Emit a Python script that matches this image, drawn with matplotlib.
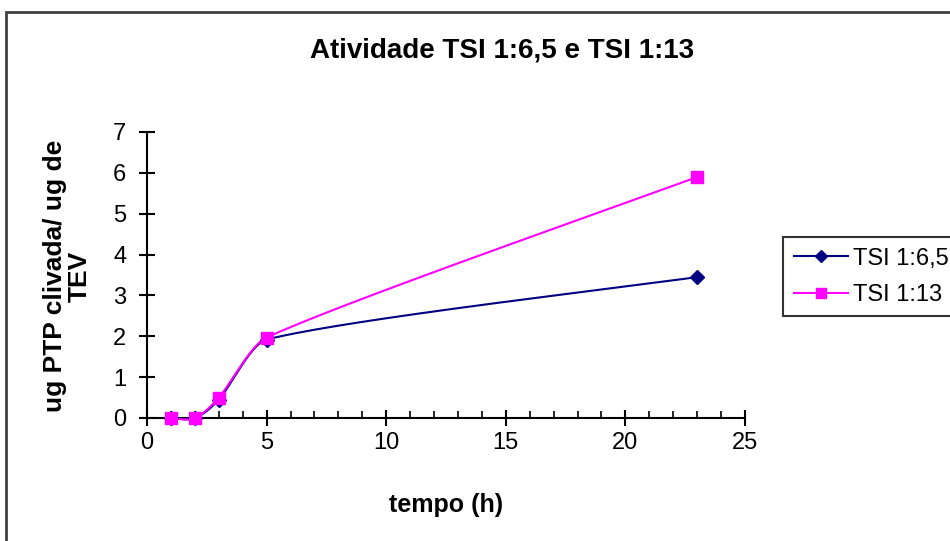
import numpy as np
import matplotlib
matplotlib.use("Agg")
import matplotlib.pyplot as plt
from matplotlib.patches import Rectangle
from matplotlib.lines import Line2D
from matplotlib.ticker import MultipleLocator

plt.rcParams['font.family'] = ['Liberation Sans', 'DejaVu Sans']

tempo = [1, 2, 3, 5, 23]
tsi_65 = [0.0, 0.0, 0.45, 1.92, 3.45]
tsi_13 = [0.0, 0.0, 0.5, 1.97, 5.9]
x_ticks = [0, 5, 10, 15, 20, 25]
y_ticks = [0, 1, 2, 3, 4, 5, 6, 7]


def smooth(xs, ys, n=60):
    """Spreadsheet-style smoothed line: cubic Bezier pieces whose control
    points follow the neighbour chords, shortened so no piece folds back."""
    p = np.column_stack([np.asarray(xs, float), np.asarray(ys, float)])
    npt = len(p)
    tang = []
    for k in range(npt):
        a = p[max(k - 1, 0)]
        b = p[min(k + 1, npt - 1)]
        tang.append((b - a) / 6.0)
    t = np.linspace(0, 1, n)[:, None]
    out = []
    for k in range(npt - 1):
        h = p[k + 1, 0] - p[k, 0]
        t1, t2 = tang[k].copy(), tang[k + 1].copy()
        if t1[0] > h / 3:
            t1 *= (h / 3) / t1[0]
        if t2[0] > h / 3:
            t2 *= (h / 3) / t2[0]
        c1 = p[k] + t1
        c2 = p[k + 1] - t2
        seg = ((1 - t) ** 3) * p[k] + 3 * ((1 - t) ** 2) * t * c1 \
            + 3 * (1 - t) * t ** 2 * c2 + t ** 3 * p[k + 1]
        out.append(seg)
    out = np.vstack(out)
    return out[:, 0], out[:, 1]


fig = plt.figure(figsize=(9.5, 5.41), dpi=100)
fig.patch.set_facecolor('white')

# chart area frame
fig.patches.append(Rectangle((6 / 950, -0.05), 1.2, 1 - 12 / 541 + 0.05,
                             transform=fig.transFigure, fill=False,
                             edgecolor='#404040', linewidth=2))

ax = fig.add_axes([147 / 950, 1 - 418 / 541, (745 - 147) / 950, (418 - 132) / 541])

bx, by = smooth(tempo, tsi_65)
px_, py_ = smooth(tempo, tsi_13)
ax.plot(bx, by, color='#000080', linewidth=1.5, zorder=3, clip_on=False)
ax.plot(tempo, tsi_65, linestyle='none', marker='D', markersize=7,
        color='#000080', zorder=4, clip_on=False)
ax.plot(px_, py_, color='#FF00FF', linewidth=1.5, zorder=3, clip_on=False)
ax.plot(tempo, tsi_13, linestyle='none', marker='s', markersize=9,
        color='#FF00FF', zorder=5, clip_on=False)

ax.set_xlim(0, 25)
ax.set_ylim(0, 7)
ax.set_xticks(x_ticks)
ax.set_yticks(y_ticks)
ax.xaxis.set_minor_locator(MultipleLocator(1))
for s in ['top', 'right']:
    ax.spines[s].set_visible(False)
for s in ['left', 'bottom']:
    ax.spines[s].set_linewidth(1.5)
ax.tick_params(axis='x', which='major', direction='inout', length=12, width=1.5,
               labelsize=17, pad=4)
ax.tick_params(axis='x', which='minor', direction='in', length=5, width=1.2)
ax.tick_params(axis='y', which='major', direction='inout', length=12, width=1.5,
               labelsize=17, pad=9)

ax.set_xlabel('tempo (h)', fontsize=18, fontweight='bold', labelpad=28)

fig.text(67 / 950, 1 - 276 / 541, 'ug PTP clivada/ ug de\nTEV', rotation=90,
         ha='center', va='center', multialignment='center', fontsize=19,
         fontweight='bold', linespacing=1.05)

fig.text(502 / 950, 1 - 50 / 541, 'Atividade TSI 1:6,5 e TSI 1:13', ha='center',
         va='center', fontsize=20, fontweight='bold')

handles = [Line2D([], [], color='#000080', marker='D', markersize=6, linewidth=1.5),
           Line2D([], [], color='#FF00FF', marker='s', markersize=7, linewidth=1.5)]
leg = fig.legend(handles, ['TSI 1:6,5', 'TSI 1:13'], loc='upper left',
                 bbox_to_anchor=(783 / 950, 1 - 237 / 541), fontsize=17,
                 frameon=True, fancybox=False, handlelength=2.3,
                 handletextpad=0.2, borderpad=0.45, labelspacing=0.6,
                 borderaxespad=0)
leg.get_frame().set_edgecolor('black')
leg.get_frame().set_linewidth(1.5)

fig.savefig('out.png', dpi=100, facecolor='white')
